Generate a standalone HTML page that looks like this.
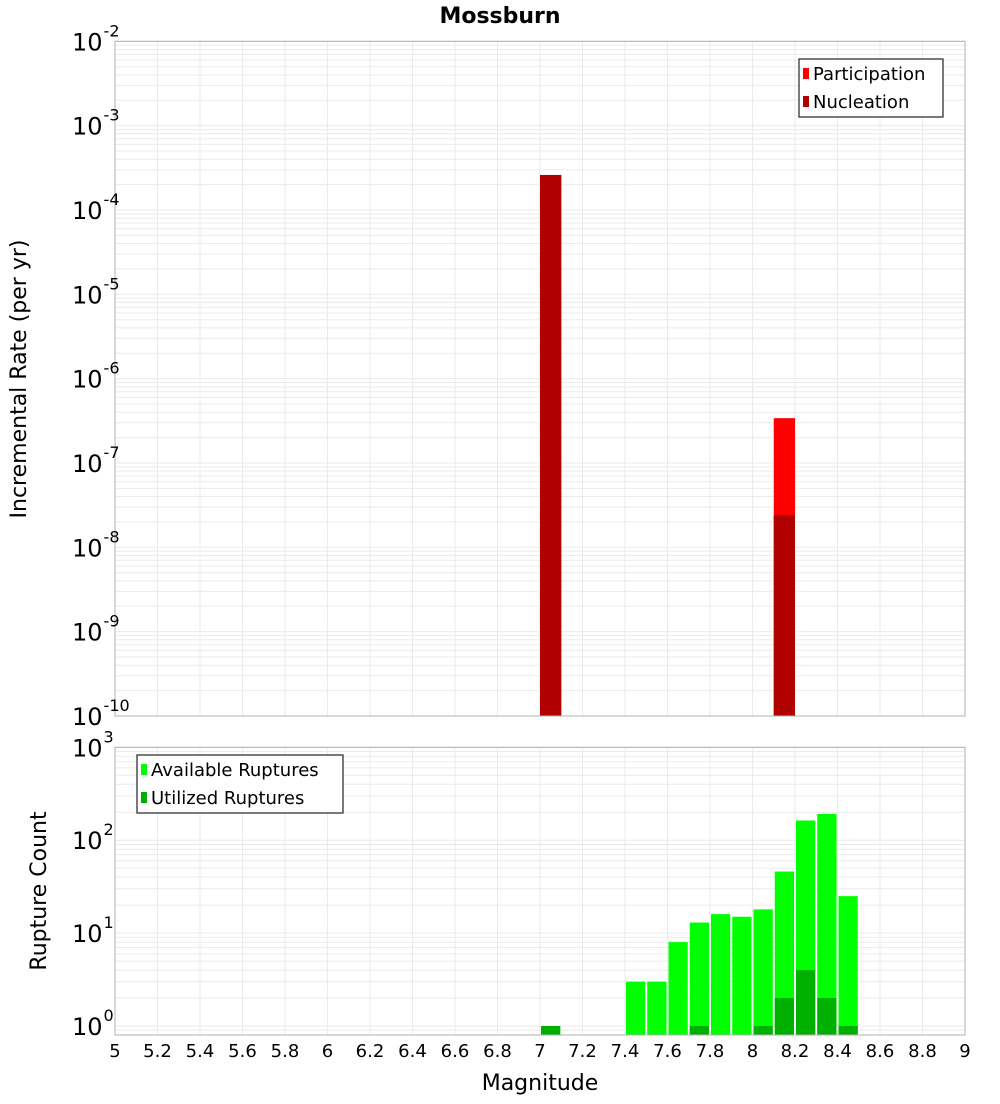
<!DOCTYPE html>
<html><head><meta charset="utf-8"><style>
body{margin:0;background:#fff;font-family:"DejaVu Sans","Liberation Sans",sans-serif}
svg text{font-family:"DejaVu Sans","Liberation Sans",sans-serif}
</style></head><body>
<svg id="c" width="1000" height="1100" xmlns="http://www.w3.org/2000/svg"></svg>
<script>
const topBins=[7.05,8.15];
const participation=[2.6e-4,3.4e-7];
const nucleation=[2.6e-4,2.4e-8];
const cntBins=[7.05,7.45,7.55,7.65,7.75,7.85,7.95,8.05,8.15,8.25,8.35,8.45];
const available=[1,3,3,8,13,16,15,18,46,163,192,25];
const utilized=[1,0,0,0,1,0,0,1,2,4,2,1];
const xTicks=[5,5.2,5.4,5.6,5.8,6,6.2,6.4,6.6,6.8,7,7.2,7.4,7.6,7.8,8,8.2,8.4,8.6,8.8,9];
const topExp=[-10,-9,-8,-7,-6,-5,-4,-3,-2];
const botExp=[0,1,2,3];

const NS="http://www.w3.org/2000/svg";
const svg=document.getElementById('c');
function el(t,a,p){const e=document.createElementNS(NS,t);for(const k in a)e.setAttribute(k,a[k]);(p||svg).appendChild(e);return e;}
const X0=115,X1=965;
const x=v=>X0+(v-5)/4*(X1-X0);
const T0=41.3,T1=716;
const yT=v=>T1-(Math.log10(v)+10)/8*(T1-T0);
const B0=747.3,B1=1035;
const bMin=Math.log10(0.8),bMax=3;
const yB=v=>B1-(Math.log10(v)-bMin)/(bMax-bMin)*(B1-B0);

function grid(y0,y1,yf,lo,hi,name){
  const g=el('g',{});
  
  
  for(let e=lo;e<=hi;e++)for(let m=1;m<10;m++){
    const v=m*Math.pow(10,e);const yy=yf(v);
    if(yy<y0-0.1||yy>y1+0.1)continue;
    el('line',{x1:X0,x2:X1,y1:yy,y2:yy,stroke:'#ebebeb','stroke-width':1},g);
  }
  xTicks.forEach(t=>el('line',{x1:x(t),x2:x(t),y1:y0,y2:y1,stroke:'#ebebeb','stroke-width':1},g));
}
grid(T0,T1,yT,-10,-2,'top-grid');
grid(B0,B1,yB,-1,3,'bottom-grid');

// top bars
const bw=0.1;
topBins.forEach((b,i)=>{
  let r=el('rect',{x:x(b-bw/2),y:yT(participation[i]),width:x(b+bw/2)-x(b-bw/2),height:T1-yT(participation[i]),fill:'#ff0000'});
  
  
  r=el('rect',{x:x(b-bw/2),y:yT(nucleation[i]),width:x(b+bw/2)-x(b-bw/2),height:T1-yT(nucleation[i]),fill:'#b00000'});
  
  
});
// bottom bars
cntBins.forEach((b,i)=>{
  const xa=x(b-bw/2)+1,w=x(b+bw/2)-x(b-bw/2)-2;
  if(available[i]>0){
    const r=el('rect',{x:xa,y:yB(available[i]),width:w,height:B1-yB(available[i]),fill:'#00ff00'});
    
    
  }
  if(utilized[i]>0){
    const r=el('rect',{x:xa,y:yB(utilized[i]),width:w,height:B1-yB(utilized[i]),fill:'#00b000'});
    
    
  }
});
// frames
let f=el('rect',{x:X0,y:T0,width:X1-X0,height:T1-T0,fill:'none',stroke:'#b0b0b0'});

f=el('rect',{x:X0,y:B0,width:X1-X0,height:B1-B0,fill:'none',stroke:'#b0b0b0'});


// y tick labels
function ylab(yy,e,name){
  const t=el('text',{x:72,y:yy+9,'font-size':24,fill:'#000'});
  
  
  t.textContent='10';
  const s=el('tspan',{dx:1,dy:-14,'font-size':16},t);s.textContent=String(e);
}
topExp.forEach(e=>ylab(yT(Math.pow(10,e)),e,'top-y-tick-label'));
botExp.forEach(e=>ylab(yB(Math.pow(10,e)),e,'bottom-y-tick-label'));
// x tick labels
xTicks.forEach(t=>{
  const tx=el('text',{x:x(t),y:1057,'font-size':18,'text-anchor':'middle',fill:'#000'});
  
  
  tx.textContent=String(t);
});
function txt(s,a,name){const t=el('text',a);t.textContent=s;return t;}
txt('Mossburn',{x:500,y:23,'font-size':22,'font-weight':'bold','text-anchor':'middle'},'chart-title');
txt('Magnitude',{x:540,y:1090,'font-size':22,'text-anchor':'middle'},'x-axis-title');
txt('Incremental Rate (per yr)',{x:0,y:0,'font-size':22,'text-anchor':'middle',transform:'translate(26,379) rotate(-90)'},'top-y-axis-title');
txt('Rupture Count',{x:0,y:0,'font-size':22,'text-anchor':'middle',transform:'translate(46,891) rotate(-90)'},'bottom-y-axis-title');

// legends
function legend(x0,y0,w,items,name){
  const g=el('g',{});
  
  
  el('rect',{x:x0,y:y0,width:w,height:58,fill:'#fff',stroke:'#333','stroke-width':1.3},g);
  items.forEach((it,i)=>{
    el('rect',{x:x0+4,y:y0+9+i*28,width:6,height:11,fill:it[1]},g);
    const t=el('text',{x:x0+14,y:y0+21+i*28,'font-size':18},g);t.textContent=it[0];
  });
}
legend(799,59,144,[['Participation','#ff0000'],['Nucleation','#b00000']],'top-legend');
legend(137,755,206,[['Available Ruptures','#00ff00'],['Utilized Ruptures','#00b000']],'bottom-legend');
</script>
</body></html>
